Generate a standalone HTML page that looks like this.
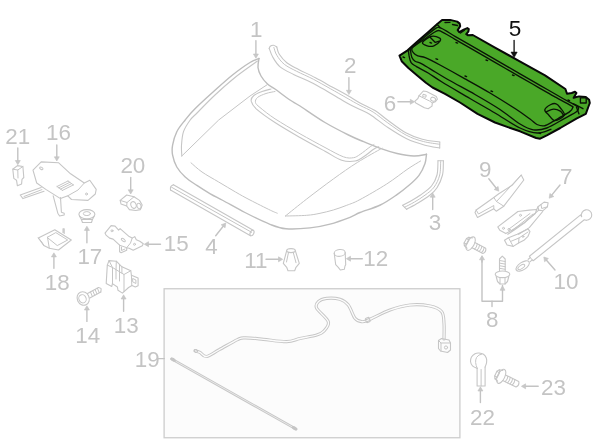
<!DOCTYPE html>
<html><head><meta charset="utf-8"><title>Hood parts diagram</title>
<style>
html,body{margin:0;padding:0;background:#fff;}
body{width:600px;height:447px;overflow:hidden;}
svg{display:block;}
.soft{filter:blur(0.35px);}
.soft2{filter:blur(0.2px);}
.l{fill:none;stroke:#c6c6c6;stroke-width:1.1;stroke-linecap:round;stroke-linejoin:round;}
.lt{fill:none;stroke:#c5c5c5;stroke-width:1;stroke-linecap:round;stroke-linejoin:round;}
.lk{fill:none;stroke:#bdbdbd;stroke-width:1.4;stroke-linecap:round;stroke-linejoin:round;}
.lw{fill:#fff;stroke:#c6c6c6;stroke-width:1.1;stroke-linecap:round;stroke-linejoin:round;}
.a{fill:none;stroke:#c3c3c3;stroke-width:1.4;stroke-linecap:round;stroke-linejoin:round;}
.ah{fill:#c8c8c8;stroke:#c2c2c2;stroke-width:0.6;stroke-linejoin:round;}
.akh{fill:#111;stroke:#111;stroke-width:0.6;stroke-linejoin:round;}
.t{font-family:"Liberation Sans",sans-serif;font-size:22.4px;fill:#c4c4c4;}
.tk{font-family:"Liberation Sans",sans-serif;font-size:22.6px;fill:#111;}
.ak{fill:none;stroke:#111;stroke-width:1.3;stroke-linecap:round;stroke-linejoin:round;}
.g{fill:#4aa828;stroke:#080808;stroke-width:2;stroke-linejoin:round;}
.k{fill:none;stroke:#0a1406;stroke-width:1.35;stroke-linecap:round;stroke-linejoin:round;}
.box{fill:#fcfcfc;stroke:#cdcdcd;stroke-width:1.3;}
</style></head><body>
<svg width="600" height="447" viewBox="0 0 600 447">
<g class="soft">
<rect class="box" x="164.1" y="288.75" width="295.8" height="149"/>
<path class="lk" d="M259.0 58.5C257.5 59.2 254.4 59.8 250.0 62.5C245.6 65.2 238.8 70.0 232.5 75.0C226.2 80.0 218.8 86.9 212.5 92.5C206.2 98.1 199.6 104.2 195.0 108.8C190.4 113.3 188.2 116.2 185.2 120.0C182.2 123.8 178.9 127.5 176.8 131.7C174.7 135.9 173.3 141.3 172.6 145.2C171.9 149.1 171.9 151.6 172.6 155.2C173.3 158.8 174.7 163.4 176.8 167.0C178.9 170.6 181.8 173.9 185.2 177.0C188.5 180.1 192.7 182.6 196.9 185.4C201.1 188.2 206.0 191.3 210.3 193.8C214.7 196.3 217.2 197.4 223.0 200.5C228.8 203.6 237.2 208.5 245.0 212.5C252.8 216.5 263.2 221.6 270.0 224.3C276.8 227.0 279.3 228.2 286.0 228.8C292.7 229.4 302.7 228.7 310.0 227.9C317.3 227.1 323.3 225.9 330.0 224.1C336.7 222.3 345.0 219.2 350.0 217.3C355.0 215.4 354.9 214.6 360.0 212.5C365.1 210.4 374.1 208.0 380.3 205.0C386.5 202.0 392.2 197.9 397.0 194.6C401.8 191.3 405.3 188.5 409.0 185.3C412.7 182.1 416.3 178.9 419.0 175.3C421.7 171.7 423.8 167.0 425.0 163.5C426.2 160.0 426.2 155.8 426.5 154.3"/>
<path class="lk" d="M259.0 58.5C258.8 60.0 257.7 64.6 258.0 67.5C258.3 70.4 259.4 73.2 261.0 76.0C262.6 78.8 265.2 81.8 267.5 84.0C269.8 86.2 271.2 86.3 275.0 89.0C278.8 91.7 285.8 97.2 290.0 100.0C294.2 102.8 294.2 102.2 300.0 106.0C305.8 109.8 316.9 117.7 325.0 122.5C333.1 127.3 342.1 131.8 348.5 135.0C354.9 138.2 358.3 139.5 363.6 141.7C368.9 143.9 374.7 146.4 380.3 148.4C385.9 150.4 391.5 152.2 397.1 153.5C402.7 154.8 409.0 155.9 413.9 156.0C418.8 156.1 424.4 154.6 426.5 154.3"/>
<path class="l" d="M257.5 61.0C253.8 63.8 242.1 71.8 235.0 77.5C227.9 83.2 221.2 89.2 215.0 95.0C208.8 100.8 201.6 108.3 197.5 112.5C193.4 116.7 192.5 116.8 190.2 120.0C187.9 123.2 184.9 127.5 183.5 131.7C182.1 135.9 181.8 141.1 181.5 145.2C181.2 149.2 181.8 154.2 181.8 156.0"/>
<path class="lt" d="M181.8 156.0L218.7 120.0L250.0 96.0L267.5 84.5"/>
<path class="lt" d="M191.0 162.8C192.8 164.3 197.4 168.8 202.0 172.0C206.6 175.2 213.1 178.7 218.7 182.0C224.3 185.3 230.3 189.0 235.5 192.0C240.7 195.0 244.2 197.0 250.0 200.0C255.8 203.0 265.8 208.0 270.3 210.2C274.9 212.4 276.1 212.7 277.3 213.2"/>
<path class="lt" d="M285.4 216.0C288.9 213.2 298.7 205.2 306.7 199.0C314.7 192.8 324.9 185.1 333.3 179.0C341.7 172.9 349.2 167.6 357.3 162.5C365.4 157.4 377.9 150.6 382.0 148.2"/>
<path class="lt" d="M285.4 216.0C288.9 215.9 300.9 215.8 306.7 215.3C312.5 214.9 315.6 214.2 320.0 213.3C324.4 212.4 328.9 211.3 333.3 210.0C337.8 208.7 342.2 207.0 346.7 205.3C351.1 203.6 353.3 203.2 360.0 199.6C366.7 196.0 378.7 189.1 386.7 184.0C394.7 178.9 402.4 172.6 408.0 168.8C413.6 165.0 418.5 162.3 420.6 161.0"/>
<path class="l" d="M271.0 89.0C269.5 89.4 264.9 90.4 262.0 91.5C259.1 92.6 255.5 93.9 253.8 95.5C252.0 97.1 250.8 99.0 251.2 101.2C251.7 103.5 252.3 105.2 256.2 108.8C260.2 112.3 267.7 117.7 275.0 122.5C282.3 127.3 291.7 132.7 300.0 137.5C308.3 142.3 318.1 147.5 325.0 151.2C331.9 155.0 336.7 158.6 341.7 160.2C346.7 161.8 351.5 161.6 355.2 161.0C358.9 160.4 360.5 158.8 363.6 156.8C366.7 154.9 371.1 151.0 373.6 149.3C376.1 147.6 377.9 147.1 378.7 146.7"/>
<path class="lt" d="M275.0 91.5C273.5 91.8 268.9 92.5 266.0 93.5C263.1 94.5 259.2 96.0 257.5 97.5C255.8 99.0 255.1 100.8 255.5 102.5C255.9 104.2 256.8 104.8 260.0 107.5C263.2 110.2 268.3 114.4 275.0 118.8C281.7 123.1 291.7 129.0 300.0 133.8C308.3 138.5 317.8 143.7 325.0 147.5C332.2 151.3 338.6 155.1 343.4 156.8C348.1 158.5 350.7 158.1 353.5 157.7C356.3 157.3 357.4 156.1 360.2 154.3C363.0 152.5 368.0 148.3 370.3 146.7C372.6 145.1 373.4 144.9 374.0 144.5"/>
<path class="l" d="M276.8 47.0C277.2 48.2 277.6 51.7 279.3 54.3C281.0 56.9 283.6 60.2 286.8 62.7C290.0 65.2 293.8 66.9 298.6 69.4C303.4 71.9 309.8 74.8 315.4 77.8C321.0 80.7 326.5 83.9 332.1 87.0C337.7 90.1 344.2 93.5 348.9 96.2C353.5 98.9 355.6 100.5 360.0 102.9C364.4 105.3 370.4 107.7 375.0 110.5C379.6 113.3 382.4 116.3 387.5 120.0C392.6 123.7 400.0 129.6 405.8 132.8C411.6 136.0 416.6 137.7 422.3 139.2C428.0 140.8 436.8 141.5 439.8 142.0"/>
<path class="l" d="M269.2 48.4C269.8 49.8 270.8 53.7 272.6 56.8C274.4 59.9 276.6 63.9 280.1 66.8C283.6 69.7 288.6 71.9 293.6 74.4C298.6 76.9 304.7 79.1 310.3 81.9C315.9 84.7 321.5 88.0 327.1 91.2C332.7 94.4 338.4 98.1 343.9 101.2C349.4 104.3 355.6 107.4 360.0 109.6C364.4 111.8 365.3 111.5 370.0 114.5C374.7 117.5 382.2 123.7 388.3 127.8C394.4 131.8 400.6 135.8 406.7 138.8C412.8 141.7 419.5 143.7 425.0 145.2C430.5 146.7 437.2 147.5 439.7 148.0"/>
<path class="lt" d="M273.9 47.5C274.4 48.8 275.0 52.5 276.8 55.2C278.5 58.0 280.9 61.6 284.3 64.3C287.6 66.9 291.8 68.8 296.7 71.3C301.6 73.8 307.9 76.4 313.5 79.3C319.0 82.2 324.6 85.5 330.2 88.6C335.8 91.7 342.0 95.3 347.0 98.1C352.0 100.9 355.6 103.1 360.0 105.4C364.4 107.8 368.5 109.1 373.1 112.0C377.7 114.9 382.3 119.1 387.8 122.9C393.3 126.8 400.2 132.0 406.1 135.1C412.1 138.2 417.7 140.0 423.3 141.5C428.9 143.0 437.0 143.8 439.7 144.3"/>
<path class="l" d="M269.2 48.4C269.4 48.0 269.6 46.7 270.3 46.2C271.0 45.7 272.4 45.2 273.5 45.3C274.6 45.4 276.2 46.7 276.8 47.0"/>
<path class="l" d="M439.8 142.0L439.7 148.0"/>
<path class="l" d="M438.0 160.7C437.8 163.1 438.1 170.8 437.0 175.0C435.9 179.2 434.2 182.7 431.5 186.0C428.8 189.3 423.9 192.6 420.5 195.0C417.1 197.4 414.3 199.0 411.3 200.7C408.3 202.4 404.1 204.5 402.7 205.3"/>
<path class="l" d="M443.4 160.7C443.2 163.1 443.6 170.5 442.5 175.0C441.4 179.5 439.1 184.4 437.0 187.8C434.9 191.2 432.9 192.7 429.7 195.2C426.5 197.7 421.8 200.7 418.0 203.0C414.2 205.3 408.6 208.2 406.7 209.3"/>
<path class="lt" d="M440.7 160.7C440.5 163.1 440.8 170.6 439.7 175.0C438.6 179.4 436.6 183.6 434.2 187.0C431.8 190.4 428.3 192.7 425.0 195.2C421.7 197.7 417.9 200.0 414.5 202.0C411.1 204.0 406.2 206.4 404.5 207.3"/>
<path class="l" d="M438.0 160.7L443.4 160.7"/>
<path class="l" d="M402.7 205.3L406.7 209.3"/>
<path class="l" d="M173.4 184.8L253.2 230.2"/>
<path class="lt" d="M171.5 187.2L251.6 232.3"/>
<path class="l" d="M170.5 190.0L250.5 235.8"/>
<path class="l" d="M173.4 184.8C172.9 185.1 171.2 185.8 170.7 186.7C170.2 187.6 170.5 189.4 170.5 190.0"/>
<ellipse class="l" cx="252" cy="233" rx="1.8" ry="2.9" transform="rotate(25 252 233)"/>
<text class="t" x="249.9" y="36.9">1</text>
<path class="a" d="M255.9 40.7 L255.9 54.0"/>
<path class="ah" d="M253.4 54.0 L255.9 58.2 L258.4 54.0 Z"/>
<text class="t" x="344.0" y="73.1">2</text>
<path class="a" d="M348.9 77.7 L348.9 90.3"/>
<path class="ah" d="M346.4 90.3 L348.9 94.5 L351.4 90.3 Z"/>
<text class="t" x="428.8" y="229.7">3</text>
<path class="a" d="M432.7 209.5 L432.7 197.2"/>
<path class="ah" d="M435.2 197.2 L432.7 193.0 L430.2 197.2 Z"/>
<text class="t" x="205.3" y="254.4">4</text>
<path class="a" d="M215.7 235.8 L223.2 226.3"/>
<path class="ah" d="M225.1 227.8 L225.8 223.0 L221.2 224.8 Z"/>
<text class="t" x="383.7" y="110.6">6</text>
<path class="a" d="M397.9 101.8 L410.3 101.8"/>
<path class="ah" d="M410.3 104.3 L414.5 101.8 L410.3 99.3 Z"/>
<text class="t" x="560.0" y="183.9">7</text>
<path class="a" d="M560.0 185.0 L551.9 194.9"/>
<path class="ah" d="M549.9 193.4 L549.2 198.2 L553.8 196.5 Z"/>
<text class="t" x="485.9" y="327.1">8</text>
<text class="t" x="479.1" y="177.0">9</text>
<path class="a" d="M488.8 178.8 L496.1 188.0"/>
<path class="ah" d="M494.2 189.5 L498.8 191.2 L498.1 186.4 Z"/>
<text class="t" x="553.6" y="289.4">10</text>
<path class="a" d="M555.0 270.0 L546.5 260.2"/>
<path class="ah" d="M548.4 258.5 L543.8 257.0 L544.6 261.8 Z"/>
<text class="t" x="244.2" y="267.7">11</text>
<path class="a" d="M266.0 259.3 L278.5 259.3"/>
<path class="ah" d="M278.5 261.8 L282.7 259.3 L278.5 256.8 Z"/>
<text class="t" x="363.2" y="266.1">12</text>
<path class="a" d="M362.3 258.7 L350.5 258.7"/>
<path class="ah" d="M350.5 256.2 L346.3 258.7 L350.5 261.2 Z"/>
<text class="t" x="113.7" y="333.2">13</text>
<path class="a" d="M123.6 311.3 L123.6 299.0"/>
<path class="ah" d="M126.1 299.0 L123.6 294.8 L121.1 299.0 Z"/>
<text class="t" x="75.3" y="342.9">14</text>
<path class="a" d="M86.9 321.4 L86.9 310.0"/>
<path class="ah" d="M89.4 310.0 L86.9 305.8 L84.4 310.0 Z"/>
<text class="t" x="163.8" y="251.1">15</text>
<path class="a" d="M160.5 244.2 L148.5 244.2"/>
<path class="ah" d="M148.5 241.7 L144.3 244.2 L148.5 246.7 Z"/>
<text class="t" x="46.1" y="140.3">16</text>
<path class="a" d="M56.8 145.0 L56.8 156.8"/>
<path class="ah" d="M54.3 156.8 L56.8 161.0 L59.3 156.8 Z"/>
<text class="t" x="77.4" y="263.7">17</text>
<path class="a" d="M86.9 242.7 L86.9 230.4"/>
<path class="ah" d="M89.4 230.4 L86.9 226.2 L84.4 230.4 Z"/>
<text class="t" x="44.8" y="289.7">18</text>
<path class="a" d="M53.9 268.3 L53.9 256.9"/>
<path class="ah" d="M56.4 256.9 L53.9 252.8 L51.4 256.9 Z"/>
<text class="t" x="134.7" y="366.9">19</text>
<path class="a" d="M158.5 358.6L164.3 358.6"/>
<text class="t" x="120.4" y="172.8">20</text>
<path class="a" d="M130.7 177.5 L130.7 189.8"/>
<path class="ah" d="M128.2 189.8 L130.7 194.0 L133.2 189.8 Z"/>
<text class="t" x="5.2" y="143.9">21</text>
<path class="a" d="M17.8 148.0 L17.8 160.5"/>
<path class="ah" d="M15.3 160.5 L17.8 164.7 L20.3 160.5 Z"/>
<text class="t" x="470.1" y="425.1">22</text>
<path class="a" d="M480.4 402.5 L480.4 391.0"/>
<path class="ah" d="M482.9 391.0 L480.4 386.8 L477.9 391.0 Z"/>
<text class="t" x="541.0" y="394.9">23</text>
<path class="a" d="M538.2 386.3 L525.6 386.3"/>
<path class="ah" d="M525.6 383.8 L521.4 386.3 L525.6 388.8 Z"/>
<path class="a" d="M482.0 257.0L482.0 301.2L502.5 301.2L502.5 285.5"/>
<path class="a" d="M492.0 301.2L492.0 306.5"/>
<path class="a" d="M482.0 262.0 L482.0 259.8"/>
<path class="ah" d="M484.5 259.8 L482.0 255.6 L479.5 259.8 Z"/>
<path class="a" d="M502.5 291.0 L502.5 290.2"/>
<path class="ah" d="M505.0 290.2 L502.5 286.0 L500.0 290.2 Z"/>
<path class="l" d="M12.8 169.2L17.4 165.6L22.9 166.5L23.8 177.5L22.0 179.3L21.6 183.9L17.4 185.8L16.5 180.2L13.8 178.4Z"/>
<path class="lt" d="M12.8 169.2L17.8 170.0L22.9 166.5"/>
<path class="lt" d="M17.8 170.0L18.0 178.0"/>
<path class="l" d="M33.0 170.2L41.2 161.9L58.7 162.8L70.6 173.8L84.3 183.0L89.8 180.2L96.2 189.4L95.3 194.0L88.0 200.4L71.5 199.5L67.8 195.8L60.5 198.6L45.8 189.4L36.7 183.0Z"/>
<path class="lt" d="M84.3 183.0L78.0 190.0L67.8 195.8"/>
<path class="l" d="M53.2 195.8L57.8 213.2L59.6 216.0L64.2 215.0L64.2 213.2L61.4 212.3L60.5 197.5"/>
<path class="l" d="M41.2 187.6L20.2 195.0L23.0 198.6L44.0 191.2"/>
<path class="lt" d="M24.0 196.5L42.0 189.6"/>
<ellipse class="lt" cx="41.3" cy="168.3" rx="1.8" ry="1.1" transform="rotate(30 41.3 168.3)"/>
<circle class="lt" cx="86.5" cy="194" r="1"/>
<path class="lt" d="M57.0 186.5L68.0 181.0"/>
<path class="lt" d="M58.8 187.8L69.8 182.3"/>
<path class="lt" d="M60.6 189.1L71.6 183.6"/>
<path class="lt" d="M62.4 190.4L73.4 184.9"/>
<path class="lt" d="M57.0 186.5L62.4 190.4"/>
<path class="lt" d="M68.0 181.0L73.4 184.9"/>
<ellipse class="l" cx="86.9" cy="214.25" rx="8" ry="4.6"/>
<ellipse class="lt" cx="86.9" cy="213.6" rx="3.6" ry="2"/>
<path class="l" d="M79.5 216.0L81.4 219.5L82.5 222.5L91.5 222.5L92.4 219.5L94.3 216.0"/>
<path class="lt" d="M81.4 219.5L92.4 219.5"/>
<path class="l" d="M38.3 238.0L54.8 229.8L71.3 240.0L58.5 250.0L49.3 248.2L43.8 245.4Z"/>
<path class="lt" d="M47.5 237.2L55.8 232.6L67.7 240.0L57.6 245.4Z"/>
<path class="lt" d="M38.3 238.0L41.0 241.0L43.8 245.4"/>
<path class="lt" d="M47.5 237.2L49.3 248.2"/>
<path class="l" d="M63.0 232.5L63.0 228.7L64.2 228.7L64.2 233.5"/>
<ellipse class="l" cx="83.2" cy="298.5" rx="6" ry="6.8" transform="rotate(-25 83.2 298.5)"/>
<ellipse class="lt" cx="82.5" cy="298.8" rx="3.6" ry="4.2" transform="rotate(-25 82.5 298.8)"/>
<path class="l" d="M87.5 293.5L98.5 287.5"/>
<path class="l" d="M89.8 298.0L100.8 292.0"/>
<path class="l" d="M98.5 287.5C98.9 287.7 100.6 287.8 101.0 288.5C101.4 289.2 100.8 291.4 100.8 292.0"/>
<path class="lt" d="M90.5 292.0L92.3 296.3"/>
<path class="lt" d="M92.8 290.8L94.6 295.1"/>
<path class="lt" d="M95.1 289.5L96.9 293.8"/>
<path class="lt" d="M97.4 288.2L99.2 292.6"/>
<path class="l" d="M109.0 260.6L116.3 261.2L121.9 266.8L130.8 270.7L131.4 275.2L138.1 278.0L138.1 285.8L135.3 287.0L132.0 285.5L128.6 287.5L122.4 293.1L118.0 290.3L117.4 287.0L112.4 283.6L111.8 286.4L106.2 283.6L107.3 265.1Z"/>
<path class="lt" d="M107.3 265.1L112.5 267.5L112.5 283.6"/>
<path class="lt" d="M112.5 267.5L109.0 260.6"/>
<path class="lt" d="M116.3 261.2L116.0 270.0L116.0 279.0"/>
<path class="lt" d="M112.5 267.5L124.0 274.5L124.0 291.5"/>
<path class="lt" d="M124.0 274.5L130.8 270.7"/>
<path class="lt" d="M119.5 264.5L119.5 281.0"/>
<path class="lt" d="M121.9 266.8L121.9 273.0"/>
<path class="lt" d="M133.0 278.6L135.9 280.0L135.9 283.5L133.0 282.0Z"/>
<path class="lt" d="M131.4 275.2L131.8 285.5"/>
<path class="l" d="M105.0 233.1L111.1 225.6L115.1 226.1L118.6 230.1L120.1 228.6L129.2 236.6L132.2 238.1L134.7 236.6L136.3 239.7L139.8 241.2L143.3 243.7L142.3 245.7L133.2 250.2L129.2 248.2L126.7 247.7L126.7 250.2L121.1 252.7L119.6 251.7L119.6 245.2L113.1 239.1L109.6 238.1L106.0 235.1Z"/>
<path class="lt" d="M119.6 245.2L126.7 247.7L130.5 243.0L132.2 238.1"/>
<circle class="lt" cx="112" cy="230.8" r="1"/>
<ellipse class="lt" cx="123.3" cy="240" rx="2.4" ry="1.2" transform="rotate(38 123.3 240)"/>
<circle class="lt" cx="134.5" cy="244.3" r="1"/>
<path class="lt" d="M121.5 247.0L121.5 250.5L125.0 249.0"/>
<path class="l" d="M120.2 200.4L126.7 195.0L134.0 196.8L139.5 200.4L142.2 205.0L140.4 209.6L135.8 210.5L129.4 209.6L126.7 206.0L121.0 204.0Z"/>
<path class="lt" d="M120.2 200.4L127.0 202.5L134.0 196.8"/>
<path class="lt" d="M127.0 202.5L126.7 206.0"/>
<ellipse class="lt" cx="133.5" cy="205" rx="2.6" ry="3.4" transform="rotate(-20 133.5 205)"/>
<ellipse class="lt" cx="139" cy="206" rx="2" ry="2.8" transform="rotate(-20 139 206)"/>
<path class="l" d="M414.7 101.3L417.9 98.5L419.0 95.8L423.3 91.0L426.6 91.5L436.3 96.4L437.4 99.1L435.2 101.8L432.3 102.9L432.0 106.1L428.2 108.8L424.4 107.8L415.8 102.9Z"/>
<rect class="lt" x="422.8" y="94.6" width="3.3" height="2.3" rx="0.7" transform="rotate(15 424.4 95.8)"/>
<ellipse class="lt" cx="433.1" cy="99.2" rx="2.5" ry="1.9" transform="rotate(20 433.1 99.2)"/>
<path class="lt" d="M419.0 95.8L429.5 101.0L432.3 102.9"/>
<path class="l" d="M475.0 212.5L477.5 217.5L493.8 208.8L496.2 211.2L503.8 206.2L523.8 180.0L521.2 175.0L512.5 185.0L498.8 193.8L493.8 197.5L476.2 210.0Z"/>
<path class="lt" d="M476.2 210.0L478.5 214.0L493.8 205.5L493.8 208.8"/>
<path class="lt" d="M493.8 197.5L496.5 201.5L503.8 206.2"/>
<path class="lt" d="M496.5 201.5L521.2 175.0"/>
<path class="l" d="M497.8 226.9L517.9 211.5L529.3 210.1L536.7 209.5L535.3 213.5L523.9 222.9L511.8 230.3L505.8 233.6L499.8 230.3Z"/>
<path class="l" d="M538.0 206.8L544.1 202.1L548.1 202.8L547.4 206.8L542.7 210.8L538.7 210.1Z"/>
<path class="lt" d="M541.0 204.5L541.7 208.5L547.4 206.8"/>
<path class="l" d="M536.7 209.5L538.0 206.8"/>
<path class="l" d="M538.7 210.1L525.3 222.2L513.9 230.3L507.8 234.3"/>
<path class="l" d="M542.7 211.5L529.3 227.6L518.6 234.3"/>
<path class="lt" d="M509.0 229.0L530.0 213.5"/>
<path class="lt" d="M511.0 231.5L533.0 214.0"/>
<path class="l" d="M504.5 240.3L508.5 237.7L517.2 234.3L528.0 228.9L530.0 231.6L528.0 236.3L523.9 240.3L518.6 243.0L513.2 246.4L507.1 245.0Z"/>
<path class="lt" d="M508.5 237.7L510.5 241.5L513.2 246.4"/>
<path class="lt" d="M510.5 241.5L519.0 238.0L528.0 232.0"/>
<path class="lt" d="M519.0 238.0L518.6 243.0"/>
<circle class="lt" cx="503.5" cy="228.3" r="1"/>
<circle class="lt" cx="520.5" cy="215.3" r="1"/>
<circle class="lt" cx="509" cy="229.5" r="1.1"/>
<circle class="lt" cx="523" cy="236.5" r="0.9"/>
<path class="l" d="M581.6 216.6 A5.2 5.2 0 1 1 586.2 220.2"/>
<path class="l" d="M581.6 216.6L580.6 214.9L529.4 256.2L530.3 257.6L528.2 259.3"/>
<path class="l" d="M586.2 220.2L584.3 219.8L533.2 260.8L532.2 259.8L530.2 261.6"/>
<path class="lt" d="M530.3 257.6L532.2 259.8"/>
<ellipse class="l" cx="522.7" cy="266" rx="7.6" ry="3.7" transform="rotate(-33 522.7 266)"/>
<ellipse class="lt" cx="521.3" cy="267" rx="3.9" ry="1.7" transform="rotate(-33 521.3 267)"/>
<g transform="translate(470.6 243.6) rotate(28.0)">
<ellipse class="l" cx="0" cy="0" rx="3.6" ry="7.4"/>
<path class="l" d="M-1 -5.8 L-4.5 -4.8 L-6 -2.6 L-6 2.6 L-4.5 4.8 L-1 5.8"/>
<path class="lt" d="M-4.5 -4.8 L-3 -2.4 L-3 2.4 L-4.5 4.8 M-6 -2.6 L-3 -2.4 M-6 2.6 L-3 2.4"/>
<path class="l" d="M3.2 -3.0 L15.5 -3.0 Q18.1 0 15.5 3.0 L3.2 3.0"/>
<path class="lt" d="M6.0 -3.0 Q7.2 0 6.0 3.0"/>
<path class="lt" d="M8.6 -3.0 Q9.8 0 8.6 3.0"/>
<path class="lt" d="M11.2 -3.0 Q12.4 0 11.2 3.0"/>
<path class="lt" d="M13.8 -3.0 Q15.0 0 13.8 3.0"/>
</g>
<g transform="translate(501.2 376.3) rotate(26.0)">
<ellipse class="l" cx="0" cy="0" rx="3.6" ry="7.6"/>
<path class="l" d="M-1 -6.0 L-4.5 -5.0 L-6 -2.6 L-6 2.6 L-4.5 5.0 L-1 6.0"/>
<path class="lt" d="M-4.5 -5.0 L-3 -2.4 L-3 2.4 L-4.5 5.0 M-6 -2.6 L-3 -2.4 M-6 2.6 L-3 2.4"/>
<path class="l" d="M3.2 -3.1 L18.0 -3.1 Q20.6 0 18.0 3.1 L3.2 3.1"/>
<path class="lt" d="M6.0 -3.1 Q7.2 0 6.0 3.1"/>
<path class="lt" d="M8.6 -3.1 Q9.8 0 8.6 3.1"/>
<path class="lt" d="M11.2 -3.1 Q12.4 0 11.2 3.1"/>
<path class="lt" d="M13.8 -3.1 Q15.0 0 13.8 3.1"/>
</g>
<path class="l" d="M499.5 270.5L499.5 259.0L502.3 256.2L505.2 259.0L505.2 270.5"/>
<path class="lt" d="M499.5 260.5L505.2 261.5"/>
<path class="lt" d="M499.5 263.1L505.2 264.1"/>
<path class="lt" d="M499.5 265.7L505.2 266.7"/>
<path class="lt" d="M499.5 268.3L505.2 269.3"/>
<ellipse class="l" cx="502.5" cy="274.3" rx="7.3" ry="3.3"/>
<path class="l" d="M496.2 276.5L497.5 281.5L500.0 284.0L505.0 284.0L507.5 281.5L508.8 276.5"/>
<path class="lt" d="M500.0 277.5L500.0 284.0"/>
<path class="lt" d="M505.0 277.5L505.0 284.0"/>
<ellipse class="l" cx="291" cy="250.6" rx="4.3" ry="2"/>
<path class="l" d="M286.7 250.7L283.3 263.3L286.7 267.3L288.0 270.7L294.7 270.7L296.0 267.3L299.3 263.3L295.3 250.7"/>
<path class="lt" d="M293.3 252.6L296.0 262.7"/>
<path class="lt" d="M288.5 252.4L286.5 262.0"/>
<ellipse class="l" cx="339.7" cy="252.9" rx="5.5" ry="3.4" transform="rotate(-6 339.7 252.9)"/>
<path class="l" d="M334.2 253.3L335.7 264.7L338.3 267.3L340.3 270.0L344.3 269.3L345.0 266.0L345.7 264.7L345.2 252.5"/>
<path class="l" d="M477.1 368.3C476.3 367.9 473.6 366.9 472.5 365.8C471.4 364.7 470.7 363.0 470.5 361.5C470.3 360.0 470.8 358.3 471.5 357.0C472.2 355.7 473.8 354.5 475.0 353.8C476.2 353.1 477.6 352.9 479.0 353.0C480.4 353.1 482.3 353.5 483.5 354.3C484.7 355.1 485.8 356.6 486.3 358.0C486.8 359.4 486.8 361.0 486.6 362.5C486.4 364.0 485.4 366.2 485.1 367.0"/>
<path class="lt" d="M477.3 368.5 Q474.3 362 476.5 357.5 Q478.5 354.3 481.5 354.2"/>
<path class="l" d="M477.1 368.3L477.1 386.0L485.1 386.0L485.1 367.0"/>
<path class="lt" d="M481.1 369.5L481.1 386.0"/>
<path d="M195.0 350.7C195.8 351.0 198.1 351.4 200.0 352.4C201.9 353.4 203.3 356.9 206.5 356.5C209.7 356.1 214.0 352.5 219.2 349.7C224.4 346.9 233.2 341.6 237.5 339.6C241.8 337.6 240.5 337.8 244.8 337.8C249.1 337.7 256.3 338.6 263.3 339.3C270.3 340.0 280.6 341.8 286.7 341.7C292.8 341.6 295.0 339.6 300.0 338.5C305.0 337.4 312.7 336.2 316.7 335.0C320.7 333.8 322.1 333.2 324.0 331.0C325.9 328.8 329.5 325.5 328.3 321.7C327.1 317.9 318.4 311.6 316.7 308.3C315.0 305.0 316.6 303.4 318.3 301.7C320.0 300.0 323.1 298.7 326.7 298.3C330.3 297.9 336.4 298.2 340.0 299.3C343.6 300.4 345.8 301.8 348.3 305.0C350.8 308.2 352.8 315.5 355.0 318.3C357.2 321.1 359.5 321.4 361.7 321.7C363.9 322.0 363.6 321.9 368.3 320.0C373.0 318.1 383.1 312.5 390.0 310.0C396.9 307.5 403.3 305.7 410.0 305.0C416.7 304.3 424.7 304.9 430.0 306.0C435.3 307.1 439.4 308.8 441.7 311.7C444.0 314.6 443.6 318.8 444.0 323.3C444.4 327.9 444.0 336.4 444.0 339.0" fill="none" stroke="#c6c6c6" stroke-width="3.2" stroke-linecap="round" stroke-linejoin="round"/>
<path d="M195.0 350.7C195.8 351.0 198.1 351.4 200.0 352.4C201.9 353.4 203.3 356.9 206.5 356.5C209.7 356.1 214.0 352.5 219.2 349.7C224.4 346.9 233.2 341.6 237.5 339.6C241.8 337.6 240.5 337.8 244.8 337.8C249.1 337.7 256.3 338.6 263.3 339.3C270.3 340.0 280.6 341.8 286.7 341.7C292.8 341.6 295.0 339.6 300.0 338.5C305.0 337.4 312.7 336.2 316.7 335.0C320.7 333.8 322.1 333.2 324.0 331.0C325.9 328.8 329.5 325.5 328.3 321.7C327.1 317.9 318.4 311.6 316.7 308.3C315.0 305.0 316.6 303.4 318.3 301.7C320.0 300.0 323.1 298.7 326.7 298.3C330.3 297.9 336.4 298.2 340.0 299.3C343.6 300.4 345.8 301.8 348.3 305.0C350.8 308.2 352.8 315.5 355.0 318.3C357.2 321.1 359.5 321.4 361.7 321.7C363.9 322.0 363.6 321.9 368.3 320.0C373.0 318.1 383.1 312.5 390.0 310.0C396.9 307.5 403.3 305.7 410.0 305.0C416.7 304.3 424.7 304.9 430.0 306.0C435.3 307.1 439.4 308.8 441.7 311.7C444.0 314.6 443.6 318.8 444.0 323.3C444.4 327.9 444.0 336.4 444.0 339.0" fill="none" stroke="#fcfcfc" stroke-width="1.3" stroke-linecap="round" stroke-linejoin="round"/>
<circle class="lt" cx="196" cy="351" r="1.5"/>
<rect class="l" x="365.8" y="317.6" width="4" height="4.6" rx="1" transform="rotate(-20 368 320)"/>
<path class="l" d="M438.5 340.5L441.5 338.5L449.0 340.0L450.5 343.0L450.5 350.0L447.5 352.5L440.5 351.0L438.5 348.5Z"/>
<path class="lt" d="M438.5 340.5L441.0 343.0L441.0 351.0"/>
<path class="lt" d="M441.0 343.0L450.5 343.0"/>
<circle class="lt" cx="446" cy="347.5" r="1.6"/>
<path d="M171.5 358.8L296.2 429.2" fill="none" stroke="#c6c6c6" stroke-width="2.6" stroke-linecap="round"/>
<path d="M176 361.4L292 426.8" fill="none" stroke="#f0f0f0" stroke-width="0.8" stroke-linecap="round"/>
<ellipse class="l" cx="173" cy="359.6" rx="2.2" ry="1.2" transform="rotate(29.5 173 359.6)"/>
<ellipse class="l" cx="294.5" cy="428.3" rx="2.4" ry="1.2" transform="rotate(29.5 294.5 428.3)"/>
</g>
<g class="soft2">
<path class="g" d="M399.5 55.7L407.6 50.3L416.8 41.9L428.6 31.8L437.0 24.3L442.1 20.1L450.1 19.9L457.2 21.6L459.7 23.6L460.2 26.1L457.7 30.1L459.2 32.2L463.7 29.6L467.3 28.1L468.8 29.1L468.3 31.7L466.3 34.2L467.8 35.2L472.8 35.0L495.0 47.6L517.5 60.1L545.0 75.4L565.4 89.0L567.0 93.7L571.7 93.0L575.0 91.7L576.4 93.0L573.7 97.8L579.0 96.4L585.8 97.0L589.1 99.8L589.8 103.0L588.5 106.5L585.8 113.9L576.4 118.6L560.3 128.0L546.8 135.3L540.1 138.7L536.1 138.0L520.0 131.3L512.5 128.8L495.0 122.5L477.5 113.8L460.0 102.5L445.0 93.8L432.5 87.5L425.9 82.7L417.8 76.0L408.4 68.0L401.7 61.2Z"/>
<path class="k" d="M412.4 47.8C410.5 50.2 412.9 51.9 413.8 53.2C414.7 54.6 415.8 55.1 417.8 55.9C419.8 56.7 422.2 56.4 425.9 57.9C429.6 59.4 433.5 61.5 440.0 65.0C446.5 68.5 456.7 74.1 465.0 78.8C473.3 83.4 481.7 88.0 490.0 93.0C498.3 98.0 508.3 104.2 515.0 108.5C521.7 112.8 526.3 116.3 530.0 119.0C533.7 121.7 534.6 123.4 537.0 124.5C539.4 125.6 541.4 126.3 544.2 125.8C547.0 125.2 550.9 122.6 553.6 121.2C556.3 119.8 557.6 118.8 560.3 117.2C563.0 115.6 567.7 113.2 569.7 111.6C571.8 110.0 572.4 108.8 572.6 107.8C572.8 106.8 574.2 107.5 571.0 105.6C567.8 103.6 559.2 99.2 553.6 96.1C548.0 93.0 543.0 90.0 537.4 86.8C531.8 83.6 527.1 80.9 520.0 76.8C512.9 72.7 502.9 67.0 495.0 62.4C487.1 57.8 479.2 53.2 472.5 49.4C465.8 45.5 460.2 42.3 455.0 39.3C449.8 36.3 444.2 32.6 441.0 31.3C437.8 30.0 438.7 30.1 436.0 31.4C433.3 32.6 428.9 36.1 425.0 38.8C421.1 41.5 414.3 45.4 412.4 47.8Z"/>
<path class="k" d="M408.4 50.5C410.3 48.9 415.5 44.6 420.0 41.0C424.5 37.4 431.8 30.7 435.3 28.6C438.8 26.5 437.7 26.9 441.0 28.2C444.3 29.5 449.8 33.3 455.0 36.3C460.2 39.3 465.8 42.5 472.5 46.4C479.2 50.2 487.1 54.8 495.0 59.4C502.9 64.0 512.5 69.5 520.0 73.8C527.5 78.1 533.3 81.4 540.0 85.3C546.7 89.2 554.7 93.8 560.3 97.0C565.9 100.2 570.7 102.5 573.7 104.3C576.7 106.0 577.8 106.2 578.3 107.5C578.8 108.8 578.7 110.0 576.4 111.8C574.1 113.6 569.2 115.9 564.3 118.6C559.4 121.3 551.9 126.1 546.8 128.0C541.6 129.9 537.9 130.5 533.4 129.8C528.9 129.1 525.6 127.4 520.0 124.0C514.4 120.6 507.5 114.4 500.0 109.5C492.5 104.6 483.6 99.4 475.0 94.5C466.4 89.6 455.3 83.8 448.7 80.0C442.1 76.2 439.8 74.7 435.3 72.0C430.8 69.3 425.2 65.7 421.8 63.9C418.4 62.1 416.8 62.3 415.1 61.2C413.4 60.1 412.6 59.1 411.8 57.2C411.0 55.3 410.6 51.0 410.4 49.8"/>
<path class="k" d="M408.4 50.5C408.5 51.4 408.7 53.9 409.1 55.9C409.6 57.9 409.9 60.8 411.1 62.6C412.3 64.4 413.6 64.8 416.5 66.6C419.4 68.4 424.4 70.7 428.6 73.3C432.9 75.9 435.1 77.8 442.0 82.0C448.9 86.2 461.2 93.3 470.0 98.5C478.8 103.7 486.7 108.1 495.0 113.0C503.3 117.9 512.9 124.7 520.0 128.0C527.1 131.3 532.2 132.8 537.4 133.0C542.5 133.2 548.6 129.9 550.9 129.3"/>
<path class="k" d="M573.7 103.8L583.0 108.7"/>
<path class="k" d="M576.4 107.0L579.0 113.9"/>
<path class="k" d="M445.0 22.5L450.0 22.3"/>
<path class="k" d="M452.5 24.5L457.5 25.5"/>
<path class="k" d="M460.5 33.0L464.5 30.2"/>
<path class="k" d="M437.0 24.3L440.0 27.5"/>
<path class="k" d="M422.5 42.4C423.2 40.8 428.4 37.2 431.2 36.4C434.0 35.6 437.8 37.0 439.3 37.8C440.8 38.5 440.9 39.8 440.0 41.1C439.1 42.4 436.0 45.0 433.9 45.8C431.8 46.6 429.1 46.4 427.2 45.8C425.3 45.2 421.8 44.0 422.5 42.4Z"/>
<path class="k" d="M429.9 37.1L435.3 42.4L439.3 41.1"/>
<path class="k" d="M544.8 109.8C545.1 108.0 549.0 105.5 550.9 104.5C552.8 103.5 554.6 103.2 556.2 103.8C557.8 104.3 558.9 105.9 560.3 107.8C561.6 109.7 565.2 113.1 564.3 115.2C563.4 117.3 557.5 120.6 554.9 120.6C552.3 120.6 550.6 117.0 548.9 115.2C547.2 113.4 544.5 111.6 544.8 109.8Z"/>
<path class="k" d="M546.2 111.8C547.4 111.4 551.2 109.3 553.6 109.2C556.0 109.1 558.6 110.2 560.3 111.2C562.0 112.2 563.0 114.5 563.6 115.2"/>
<path class="k" d="M580.4 97.9L586.2 97.9L586.2 103.0L580.4 103.0Z"/>
<path class="k" d="M430.0 42.5l1.6 0.6"/>
<path class="k" d="M456.0 42.5l1.6 0.6"/>
<path class="k" d="M486.0 60.0l1.6 0.6"/>
<path class="k" d="M512.5 75.0l1.6 0.6"/>
<path class="k" d="M436.0 58.8l1.6 0.6"/>
<path class="k" d="M465.0 76.0l1.6 0.6"/>
<path class="k" d="M491.0 91.0l1.6 0.6"/>
<path class="k" d="M403.0 57.0l1.6 0.6"/>
<path class="k" d="M539.0 133.0l1.6 0.6"/>
<path class="k" d="M568.0 100.0l1.6 0.6"/>
<text class="tk" x="508.7" y="35.8">5</text>
<path class="ak" d="M514.1 40.5 L514.1 52.1"/>
<path class="akh" d="M511.0 52.1 L514.1 57.6 L517.2 52.1 Z"/>
</g>
</svg>
</body></html>
